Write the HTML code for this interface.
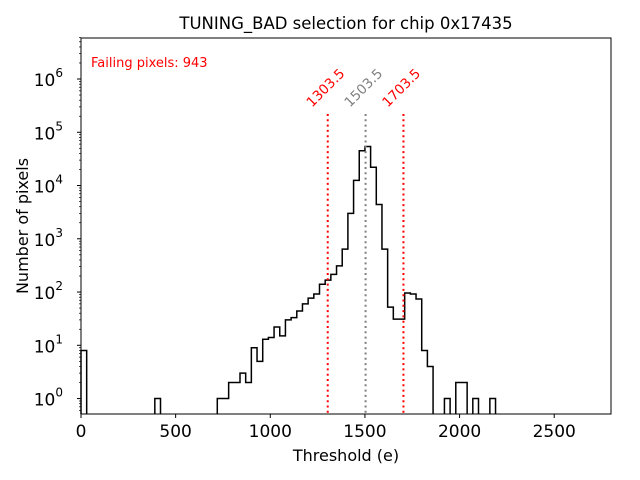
<!DOCTYPE html>
<html><head><meta charset="utf-8"><style>
body{margin:0;background:#fff}
svg{display:block;font-family:"DejaVu Sans","Liberation Sans",sans-serif}
</style></head><body>
<svg id="chart" width="640" height="480" viewBox="0 0 640 480" xmlns="http://www.w3.org/2000/svg">
<rect width="640" height="480" fill="#fff"/>
<text x="346" y="29" font-size="16.5" text-anchor="middle">TUNING_BAD selection for chip 0x17435</text>
<text x="346" y="461" font-size="16" text-anchor="middle">Threshold (e)</text>
<text transform="translate(28,226) rotate(-90)" font-size="16" text-anchor="middle">Number of pixels</text>
<text x="91" y="67" font-size="13" fill="#ff0000">Failing pixels: 943</text>
<g id="plot"></g>
<rect x="81" y="38" width="530" height="376" fill="none" stroke="#000" stroke-width="1"/>
</svg>
<script>
const binWidth = 30;
const binStarts = [0,390,720,750,780,810,840,870,900,930,960,990,1020,1050,1080,1110,1140,1170,1200,1230,1260,1290,1320,1350,1380,1410,1440,1470,1500,1530,1560,1590,1620,1650,1680,1710,1740,1770,1800,1830,1920,1980,2010,2070,2160];
const counts = [8,1,1,1,2,2,3,2,9,5,13,14,22,15,30,33,44,60,77,92,140,167,215,310,640,3000,12500,45000,54000,22000,4400,640,52,31,31,96,92,74,8,4,1,2,2,1,1];
const xTicks = [0,500,1000,1500,2000,2500];
const yTickExps = [0,1,2,3,4,5,6];
const refLines = [1303.5,1503.5,1703.5];
const refLabels = ["1303.5","1503.5","1703.5"];
const refColors = ["#ff0000","#808080","#ff0000"];

const X0=81,X1=611,Y0=38,Y1=414, XMAX=2800;
const yLo=-0.29, yHi=6.77;
function sx(v){return X0+(v/XMAX)*(X1-X0);}
function sy(v){const l=Math.log10(Math.max(v,1e-3));return Y1-(l-yLo)/(yHi-yLo)*(Y1-Y0);}
const NS="http://www.w3.org/2000/svg";
const g=document.getElementById('plot');
function mk(tag,attrs){const e=document.createElementNS(NS,tag);for(const k in attrs)e.setAttribute(k,attrs[k]);g.appendChild(e);return e;}

let d="";
let prevEnd=null;
for(let i=0;i<binStarts.length;i++){
  const a=sx(binStarts[i]), b=sx(binStarts[i]+binWidth), y=Math.max(sy(counts[i]),Y0);
  if(prevEnd!==null && Math.abs(prevEnd-binStarts[i])<1e-6){ d+=` L${a},${y}`; }
  else { d+=` M${a},${Y1} L${a},${y}`; }
  d+=` L${b},${y}`;
  const next=binStarts[i+1];
  if(next===undefined || Math.abs(next-(binStarts[i]+binWidth))>1e-6) d+=` L${b},${Y1}`;
  prevEnd=binStarts[i]+binWidth;
}
const hist=mk('path',{d:d.trim(),fill:'none',stroke:'#000','stroke-width':1.5});



refLines.forEach((v,i)=>{
  const x=sx(v);
  const ln=mk('line',{x1:x,x2:x,y1:114,y2:Y1,stroke:refColors[i],'stroke-width':2,'stroke-dasharray':'2,3.3'});
  
  
  const t=mk('text',{x:0,y:0,'font-size':13.5,fill:refColors[i],'text-anchor':'middle',transform:`translate(${x+1},${91}) rotate(-45)`});
  t.textContent=refLabels[i];
  
  
});

xTicks.forEach(v=>{
  const x=sx(v);
  const tk=mk('line',{x1:x,x2:x,y1:Y1,y2:Y1+4,stroke:'#000','stroke-width':1});
  
  
  const t=mk('text',{x:x,y:Y1+23,'font-size':17,'text-anchor':'middle'});
  t.textContent=String(v);
  
  
});

for(let e=-1;e<=7;e++){
  for(let m=1;m<10;m++){
    const v=m*Math.pow(10,e); const y=sy(v);
    if(y<Y0-0.5||y>Y1+0.5) continue;
    const tk=mk('line',{x1:X0-(m===1?4:2),x2:X0,y1:y,y2:y,stroke:'#000','stroke-width':m===1?1:0.7});
    
    
  }
}
yTickExps.forEach(e=>{
  const y=sy(Math.pow(10,e));
  const t=mk('text',{x:X0-18,y:y+7,'font-size':17,'text-anchor':'end'});
  t.textContent='10';
  const s=document.createElementNS(NS,'tspan');
  s.setAttribute('dy','-9');s.setAttribute('font-size','12');s.textContent=String(e);
  t.appendChild(s);
  
  
});
</script>
</body></html>
